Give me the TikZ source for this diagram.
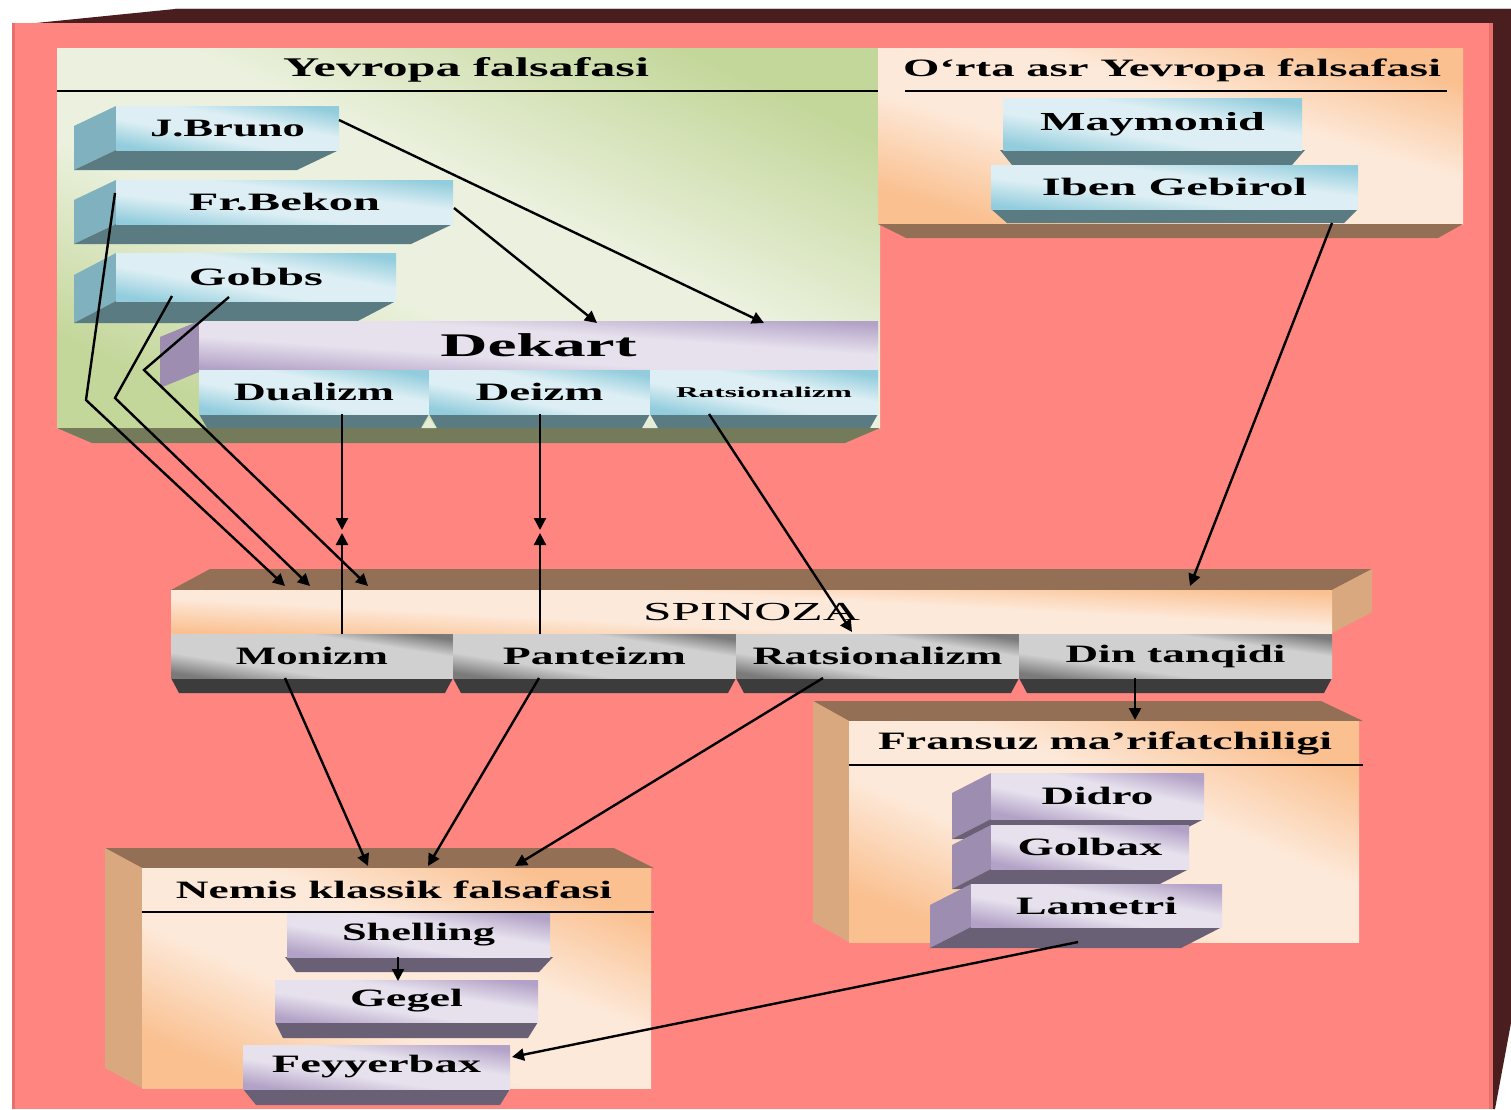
\documentclass[tikz,border=0pt]{standalone}
\usepackage{fontspec}
\setmainfont{Liberation Serif}
\usepackage{graphicx}
\usetikzlibrary{arrows.meta,calc}
\definecolor{pinkbg}{HTML}{FF8680}
\definecolor{pinkedge}{HTML}{E8706C}
\definecolor{darkfr}{HTML}{4A1E1E}
\definecolor{bluD}{HTML}{93CDDD}
\definecolor{bluL}{HTML}{DDEFF4}
\definecolor{bluS}{HTML}{7FB1BF}
\definecolor{bluB}{HTML}{5B7B83}
\definecolor{purD}{HTML}{B3A2C7}
\definecolor{purL}{HTML}{E6E1ED}
\definecolor{purS}{HTML}{9D8DB0}
\definecolor{purB}{HTML}{6A6075}
\definecolor{gryD}{HTML}{7A7A7A}
\definecolor{gryL}{HTML}{D0D0D0}
\definecolor{gryB}{HTML}{3C3C3C}
\definecolor{pchD}{HTML}{FAC090}
\definecolor{pchL}{HTML}{FDE9D9}
\definecolor{tanS}{HTML}{D9A87E}
\definecolor{brnT}{HTML}{937055}
\definecolor{grnD}{HTML}{C4D79B}
\definecolor{grnL}{HTML}{EBF1DE}
\definecolor{oliv}{HTML}{737B5A}
\definecolor{gapc}{HTML}{E6EDD6}
\pgfdeclareverticalshading{shBlue}{100bp}{color(0bp)=(bluD); color(25bp)=(bluD); color(42bp)=(bluL); color(58bp)=(bluL); color(75bp)=(bluD); color(100bp)=(bluD)}
\pgfdeclareverticalshading{shPur}{100bp}{color(0bp)=(purD); color(25bp)=(purD); color(42bp)=(purL); color(58bp)=(purL); color(75bp)=(purD); color(100bp)=(purD)}
\pgfdeclareverticalshading{shGry}{100bp}{color(0bp)=(gryD); color(25bp)=(gryD); color(38bp)=(gryL); color(64bp)=(gryL); color(75bp)=(gryD); color(100bp)=(gryD)}
\pgfdeclareverticalshading{shPch}{100bp}{color(0bp)=(pchD); color(25bp)=(pchD); color(42bp)=(pchL); color(58bp)=(pchL); color(75bp)=(pchD); color(100bp)=(pchD)}
\pgfdeclareverticalshading{shGrn}{100bp}{color(0bp)=(grnD); color(25bp)=(grnD); color(42bp)=(grnL); color(55bp)=(grnL); color(75bp)=(grnD); color(100bp)=(grnD)}
\newcommand\Lbl[3]{\resizebox{#1pt}{\height}{\fontsize{#2}{#2}\selectfont\bfseries #3}}
\newcommand\LblR[3]{\resizebox{#1pt}{\height}{\fontsize{#2}{#2}\selectfont #3}}
\newcommand\Ext[8]{%
  \fill[#7] (#1,#2) -- (#1,#4) -- ({#1+#5},{#4+#6}) -- ({#1+#5},{#2+#6}) -- cycle;
  \fill[#8] (#1,#4) -- (#3,#4) -- ({#3+#5},{#4+#6}) -- ({#1+#5},{#4+#6}) -- cycle;}
\newcommand\Bot[5]{\fill[#5] (#1,#3) -- (#2,#3) -- ({#2-8},{#3+#4}) -- ({#1+8},{#3+#4}) -- cycle;}
\begin{document}
\begin{tikzpicture}[x=1pt,y=-1pt,
  face/.style={inner sep=0pt, outer sep=0pt, anchor=north west, text=black, shade},
  blueF/.style={face, shading=shBlue, shading angle=#1},
  purF/.style={face, shading=shPur, shading angle=#1},
  gryF/.style={face, shading=shGry, shading angle=#1},
  pchF/.style={face, shading=shPch, shading angle=#1},
  grnF/.style={face, shading=shGrn, shading angle=#1},
  title/.style={inner sep=0pt, text=black},
  rule/.style={draw=black, line width=1.5pt},
  conn/.style={draw=black, line width=2.4pt, -{Triangle[length=12pt,width=12pt]}}]
\useasboundingbox (0,0) rectangle (1511,1109);
% frame
\fill[white] (0,0) rectangle (1511,1109);
\draw[gray!40, line width=1pt] (175,8) -- (1511,8);
\fill[darkfr] (36,23) -- (175,9) -- (1511,9) -- (1511,1023) -- (1495,1109) -- (1493,1109) -- (1493,23) -- cycle;
\fill[pinkbg] (12,23) rectangle (1493,1109);
\fill[pinkedge] (1489,23) rectangle (1493,1109);
\fill[pinkedge] (12,23) rectangle (15,1109);

% Yevropa falsafasi
\node[grnF=-25, minimum width=823, minimum height=380] (europa) at (57,48) {};
\fill[oliv] (57,428) -- (880,428) -- (845,443) -- (92,443) -- cycle;
\draw[rule] (57,91) -- (880,91);
\node[title] (teuropa) at (466,70) {\Lbl{366}{27}{Yevropa falsafasi}};

% O'rta asr
\node[pchF=-17, minimum width=585, minimum height=176] (orta) at (878,48) {};
\fill[brnT] (878,224) -- (1463,224) -- (1438,238) -- (906,238) -- cycle;
\draw[rule] (905,91) -- (1447,91);
\node[title] (torta) at (1172,70) {\Lbl{538}{25}{O‘rta asr Yevropa falsafasi}};
\fill[bluB] (1000,150) -- (1305,150) -- (1292,165) -- (1012,165) -- cycle;
\node[blueF=-10, minimum width=299, minimum height=52] (maym) at (1003,98) {\Lbl{225}{26}{Maymonid}};
\fill[bluB] (991,209) -- (1358,209) -- (1344,223) -- (1007,223) -- cycle;
\node[blueF=-7, minimum width=367, minimum height=44] (iben) at (991,165) {\Lbl{265}{25}{Iben Gebirol}};

% blue boxes
\Ext{116}{106}{339}{150}{-42}{20}{bluS}{bluB}
\node[blueF=-11, minimum width=223, minimum height=44] (bruno) at (116,106) {\Lbl{155}{25}{J.Bruno}};
\Ext{116}{180}{453}{224}{-42}{20}{bluS}{bluB}
\node[blueF=-7, minimum width=337, minimum height=44] (bekon) at (116,180) {\Lbl{191}{25}{Fr.Bekon}};
\Ext{116}{253}{396}{301}{-42}{22}{bluS}{bluB}
\node[blueF=-10, minimum width=280, minimum height=48] (gobbs) at (116,253) {\Lbl{134}{25}{Gobbs}};

% Dekart
\fill[purS] (199,321) -- (199,372) -- (160,388) -- (160,337) -- cycle;
\node[purF=-4, minimum width=679, minimum height=49] (dekart) at (199,321) {\Lbl{196}{33}{Dekart}};
\Bot{199}{429}{414}{14}{bluB}
\Bot{429}{650}{414}{14}{bluB}
\Bot{650}{878}{414}{14}{bluB}
\fill[gapc] (422,428) -- (436,428) -- (429,418) -- cycle;
\fill[gapc] (643,428) -- (657,428) -- (650,418) -- cycle;
\node[blueF=-11, minimum width=230, minimum height=44] (dual) at (199,370) {\Lbl{160}{25}{Dualizm}};
\node[blueF=-11, minimum width=221, minimum height=44] (deizm) at (429,370) {\Lbl{128}{25}{Deizm}};
\node[blueF=-11, minimum width=228, minimum height=44] (ratsD) at (650,370) {\Lbl{176}{15}{Ratsionalizm}};

% SPINOZA
\fill[brnT] (171,590) -- (210,569) -- (1372,569) -- (1332,590) -- cycle;
\fill[tanS] (1332,590) -- (1372,569) -- (1372,612) -- (1332,633) -- cycle;
\node[pchF=-3, minimum width=1161, minimum height=44] (spin) at (171,590) {\LblR{217}{26}{SPINOZA}};
\Bot{171}{453}{678}{15}{gryB}
\Bot{453}{736}{678}{15}{gryB}
\Bot{736}{1019}{678}{15}{gryB}
\Bot{1019}{1332}{678}{15}{gryB}
\node[gryF=-9, minimum width=282, minimum height=44] (moni) at (171,634) {\Lbl{152}{25}{Monizm}};
\node[gryF=-9, minimum width=283, minimum height=44] (pant) at (453,634) {\Lbl{183}{25}{Panteizm}};
\node[gryF=-9, minimum width=283, minimum height=44] (ratsS) at (736,634) {\Lbl{250}{25}{Ratsionalizm}};
\node[gryF=-8, minimum width=313, minimum height=44] (din) at (1019,634) {\Lbl{220}{25}{Din tanqidi}};

% Fransuz
\fill[brnT] (813,701) -- (1321,701) -- (1363,721) -- (849,721) -- cycle;
\fill[tanS] (813,701) -- (849,721) -- (849,942) -- (813,922) -- cycle;
\node[pchF=-23, minimum width=510, minimum height=221] (fransuz) at (849,721) {};
\draw[rule] (849,765) -- (1363,765);
\node[title] (tfransuz) at (1105,743) {\Lbl{454}{25}{Fransuz ma’rifatchiligi}};
\Ext{991}{773}{1204}{819}{-39}{20}{purS}{purB}
\node[purF=-12, minimum width=213, minimum height=46] (didro) at (991,773) {\Lbl{112}{25}{Didro}};
\Ext{991}{825}{1189}{869}{-39}{20}{purS}{purB}
\node[purF=-12, minimum width=198, minimum height=44] (golbax) at (991,825) {\Lbl{145}{25}{Golbax}};
\Ext{971}{884}{1222}{927}{-41}{21}{purS}{purB}
\node[purF=-10, minimum width=251, minimum height=43] (lametri) at (971,884) {\Lbl{161}{25}{Lametri}};

% Nemis
\fill[brnT] (105,848) -- (614,848) -- (654,868) -- (142,868) -- cycle;
\fill[tanS] (105,848) -- (142,868) -- (142,1088) -- (105,1068) -- cycle;
\node[pchF=-23, minimum width=509, minimum height=220] (nemis) at (142,868) {};
\draw[rule] (142,912) -- (654,912);
\node[title] (tnemis) at (394,890) {\Lbl{436}{25}{Nemis klassik falsafasi}};
\fill[purB] (285,957) -- (553,957) -- (539,972) -- (296,972) -- cycle;
\node[purF=-10, minimum width=263, minimum height=44] (shelling) at (287,913) {\Lbl{153}{25}{Shelling}};
\fill[purB] (275,1022) -- (538,1022) -- (528,1038) -- (283,1038) -- cycle;
\node[purF=-9, minimum width=263, minimum height=42] (gegel) at (275,980) {\Lbl{113}{25}{Gegel}};
\fill[purB] (243,1089) -- (510,1089) -- (500,1105) -- (256,1105) -- cycle;
\node[purF=-9, minimum width=267, minimum height=44] (feyer) at (243,1045) {\Lbl{209}{25}{Feyyerbax}};

% bend points and free ends
\coordinate (c1) at (86,400);
\coordinate (c2) at (115,398);
\coordinate (c3) at (144,370);
\coordinate (m1) at (342,530);
\coordinate (m2) at (342,533);
\coordinate (m3) at (540,530);
\coordinate (m4) at (540,533);

% connectors
\draw[conn] ([shift={(223,14)}]bruno.north west) -- ([shift={(565,2)}]dekart.north west);
\draw[conn] ([shift={(338,28)}]bekon.north west) -- ([shift={(398,2)}]dekart.north west);
\draw[conn] ([shift={(-1,13)}]bekon.north west) -- (c1) -- ([shift={(114,-4)}]spin.north west);
\draw[conn] ([shift={(56,43)}]gobbs.north west) -- (c2) -- ([shift={(139,-4)}]spin.north west);
\draw[conn] ([shift={(113,44)}]gobbs.north west) -- (c3) -- ([shift={(197,-4)}]spin.north west);
\draw[conn] ([shift={(143,44)}]dual.north west) -- (m1);
\draw[conn] ([shift={(171,0)}]moni.north west) -- (m2);
\draw[conn] ([shift={(111,44)}]deizm.north west) -- (m3);
\draw[conn] ([shift={(87,0)}]pant.north west) -- (m4);
\draw[conn] ([shift={(59,44)}]ratsD.north west) -- ([shift={(116,-2)}]ratsS.north west);
\draw[conn] ([shift={(341,58)}]iben.north west) -- ([shift={(1019,-4)}]spin.north west);
\draw[conn] ([shift={(116,44)}]din.north west) -- ([shift={(286,-1)}]fransuz.north west);
\draw[conn] ([shift={(114,44)}]moni.north west) -- ([shift={(226,-2)}]nemis.north west);
\draw[conn] ([shift={(86,44)}]pant.north west) -- ([shift={(286,-2)}]nemis.north west);
\draw[conn] ([shift={(87,44)}]ratsS.north west) -- ([shift={(373,-2)}]nemis.north west);
\draw[conn] ([shift={(107,58)}]lametri.north west) -- ([shift={(269,12)}]feyer.north west);
\draw[conn] ([shift={(111,44)}]shelling.north west) -- ([shift={(123,1)}]gegel.north west);
\end{tikzpicture}
\end{document}
